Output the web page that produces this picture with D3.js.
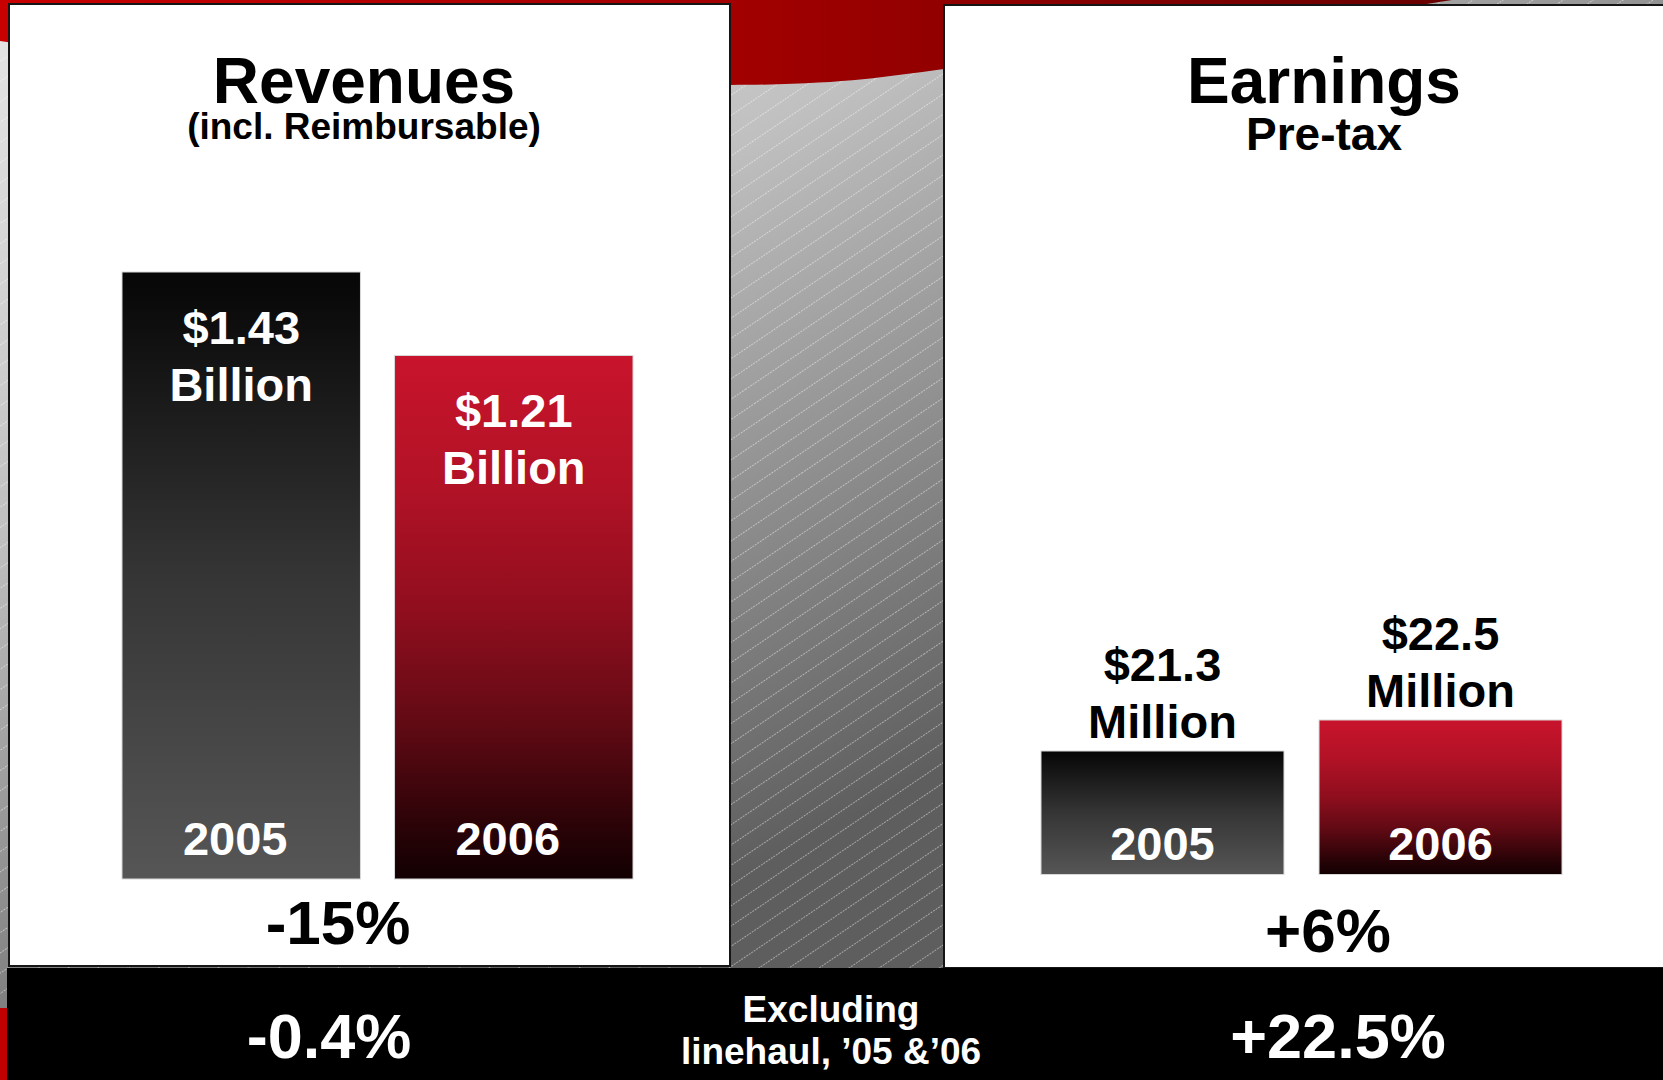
<!DOCTYPE html>
<html>
<head>
<meta charset="utf-8">
<script src="https://cdn.jsdelivr.net/npm/d3@7"></script>
<style>
  body { margin: 0; overflow: hidden; background: #fff; }
  text { font-family: 'Liberation Sans', Arial, sans-serif; font-weight: bold; }
</style>
</head>
<body>
<svg id="chart" width="1663" height="1080"></svg>
<script>
// chart values
const years = ['2005', '2006'];
const revenues = [1.43, 1.21];   // $ billion
const earnings = [21.3, 22.5];   // $ million, pre-tax
const titles = ['Revenues', 'Earnings'];
const subtitles = ['(incl. Reimbursable)', 'Pre-tax'];
const changes = ['-15%', '+6%'];
const exclLines = ['Excluding', 'linehaul, ’05 &’06'];
const exclChanges = ['-0.4%', '+22.5%'];

const svg = d3.select('#chart');
const defs = svg.append('defs');

// gradients
function linGrad(id, stops, attrs) {
    const g = defs.append('linearGradient').attr('id', id);
    Object.entries(attrs).forEach(([k, v]) => g.attr(k, v));
    g.selectAll('stop')
        .data(stops)
        .join('stop')
        .attr('offset', d => d[0])
        .attr('stop-color', d => d[1]);
}

linGrad('bg', [[0, '#e4e4e4'], [0.4, '#c0c0c0'], [1, '#5e5e5e']],
    { gradientUnits: 'userSpaceOnUse', x1: 0, y1: 40, x2: 500, y2: 1000 });
linGrad('swoosh', [[0, '#c80000'], [0.5, '#a30000'], [0.65, '#920000'], [0.98, '#6a0000']],
    { gradientUnits: 'userSpaceOnUse', x1: 0, y1: 0, x2: 1452, y2: 0 });
linGrad('barDark', [[0, '#060606'], [0.5, '#353535'], [1, '#565656']],
    { x1: 0, y1: 0, x2: 0, y2: 1 });
linGrad('barRed', [[0, '#c8142c'], [0.25, '#b21226'], [0.5, '#8e0e1e'], [0.7, '#620a14'], [0.9, '#2a0307'], [1, '#120002']],
    { x1: 0, y1: 0, x2: 0, y2: 1 });

// thin diagonal hatch over the grey background
const hatch = defs.append('pattern')
    .attr('id', 'hatch')
    .attr('patternUnits', 'userSpaceOnUse')
    .attr('width', 400)
    .attr('height', 16.8)
    .attr('patternTransform', 'rotate(-34)');
hatch.append('line')
    .attr('x1', 0).attr('x2', 400)
    .attr('y1', 0.5).attr('y2', 0.5)
    .attr('stroke', 'rgba(255,255,255,0.45)')
    .attr('stroke-width', 1)
    .attr('stroke-dasharray', '2 1');

// background
svg.append('rect').attr('width', 1663).attr('height', 1080).attr('fill', 'url(#bg)');
svg.append('rect').attr('width', 1663).attr('height', 1080).attr('fill', 'url(#hatch)');

const swooshEdge = [[0, 41], [300, 72], [730, 85], [944, 69], [1200, 37], [1452, 0]];
svg.append('path')
    .attr('d', d3.line().curve(d3.curveNatural)(swooshEdge) + 'L0,0Z')
    .attr('fill', 'url(#swoosh)');

svg.append('rect').attr('x', 0).attr('y', 1008).attr('width', 8).attr('height', 72).attr('fill', '#c00000');

// panels
svg.append('rect')
    .attr('x', 9).attr('y', 4).attr('width', 721).attr('height', 962)
    .attr('fill', '#fff').attr('stroke', '#151515').attr('stroke-width', 2);
svg.append('rect')
    .attr('x', 944).attr('y', 5).attr('width', 740).attr('height', 963)
    .attr('fill', '#fff').attr('stroke', '#151515').attr('stroke-width', 2);

// bottom band
svg.append('rect').attr('x', 7).attr('y', 968).attr('width', 1656).attr('height', 112).attr('fill', '#000');

// titles
const titleX = [364, 1324];
svg.append('g')
    .selectAll('text')
    .data(titles)
    .join('text')
    .attr('x', (d, i) => titleX[i])
    .attr('y', 103)
    .attr('text-anchor', 'middle')
    .attr('font-size', 64)
    .text(d => d);

svg.append('g')
    .selectAll('text')
    .data(subtitles)
    .join('text')
    .attr('x', (d, i) => titleX[i])
    .attr('y', (d, i) => i === 0 ? 139 : 150)
    .attr('font-size', (d, i) => i === 0 ? 37 : 46)
    .attr('text-anchor', 'middle')
    .text(d => d);

// scales
const xRev = d3.scaleBand().domain(years).range([122, 633]).paddingInner(0.125);
const yRev = d3.scaleLinear().domain([-0.17, 1.43]).range([879, 272]);
const xEarn = d3.scaleBand().domain(years).range([1041, 1562]).paddingInner(0.126);
const yEarn = d3.scaleLinear().domain([16.52, 22.5]).range([874.5, 720]);

const fill = i => i === 0 ? 'url(#barDark)' : 'url(#barRed)';

// revenue bars
const rev = svg.append('g').selectAll('g')
    .data(revenues.map((v, i) => ({ year: years[i], value: v, i })))
    .join('g');

rev.append('rect')
    .attr('x', d => xRev(d.year))
    .attr('y', d => yRev(d.value))
    .attr('width', xRev.bandwidth())
    .attr('height', d => yRev.range()[0] - yRev(d.value))
    .attr('fill', d => fill(d.i))
    .attr('stroke', '#d8d8d8')
    .attr('stroke-width', 1);

rev.append('text')
    .attr('x', d => xRev(d.year) + xRev.bandwidth() / 2)
    .attr('y', d => yRev(d.value) + 72)
    .attr('text-anchor', 'middle')
    .attr('font-size', 47)
    .attr('fill', '#fff')
    .selectAll('tspan')
    .data(d => [d3.format('$.2f')(d.value), 'Billion'])
    .join('tspan')
    .attr('x', function () { return this.parentNode.getAttribute('x'); })
    .attr('dy', (d, i) => i === 0 ? 0 : 57)
    .text(d => d);

rev.append('text')
    .attr('x', d => xRev(d.year) + xRev.bandwidth() / 2 - 6)
    .attr('y', yRev.range()[0] - 24)
    .attr('text-anchor', 'middle')
    .attr('font-size', 47)
    .attr('fill', '#fff')
    .text(d => d.year);

// earnings bars
const earn = svg.append('g').selectAll('g')
    .data(earnings.map((v, i) => ({ year: years[i], value: v, i })))
    .join('g');

earn.append('rect')
    .attr('x', d => xEarn(d.year))
    .attr('y', d => yEarn(d.value))
    .attr('width', xEarn.bandwidth())
    .attr('height', d => yEarn.range()[0] - yEarn(d.value))
    .attr('fill', d => fill(d.i))
    .attr('stroke', '#d8d8d8')
    .attr('stroke-width', 1);

earn.append('text')
    .attr('x', d => xEarn(d.year) + xEarn.bandwidth() / 2)
    .attr('y', d => yEarn(d.value) - 70)
    .attr('text-anchor', 'middle')
    .attr('font-size', 47)
    .attr('fill', '#000')
    .selectAll('tspan')
    .data(d => [d3.format('$.1f')(d.value), 'Million'])
    .join('tspan')
    .attr('x', function () { return this.parentNode.getAttribute('x'); })
    .attr('dy', (d, i) => i === 0 ? 0 : 57)
    .text(d => d);

earn.append('text')
    .attr('x', d => xEarn(d.year) + xEarn.bandwidth() / 2)
    .attr('y', yEarn.range()[0] - 15)
    .attr('text-anchor', 'middle')
    .attr('font-size', 47)
    .attr('fill', '#fff')
    .text(d => d.year);

// change labels
const changeX = [338, 1328];
svg.append('g')
    .selectAll('text')
    .data(changes)
    .join('text')
    .attr('x', (d, i) => changeX[i])
    .attr('y', (d, i) => i === 0 ? 944 : 952)
    .attr('text-anchor', 'middle')
    .attr('font-size', 62)
    .text(d => d);

// excluding linehaul band
const exclX = [329, 1338];
svg.append('g')
    .selectAll('text')
    .data(exclChanges)
    .join('text')
    .attr('x', (d, i) => exclX[i])
    .attr('y', 1058)
    .attr('text-anchor', 'middle')
    .attr('font-size', 63)
    .attr('fill', '#fff')
    .text(d => d);

svg.append('g')
    .selectAll('text')
    .data(exclLines)
    .join('text')
    .attr('x', 831)
    .attr('y', (d, i) => 1022 + i * 42)
    .attr('text-anchor', 'middle')
    .attr('font-size', 37)
    .attr('fill', '#fff')
    .text(d => d);
</script>
</body>
</html>
